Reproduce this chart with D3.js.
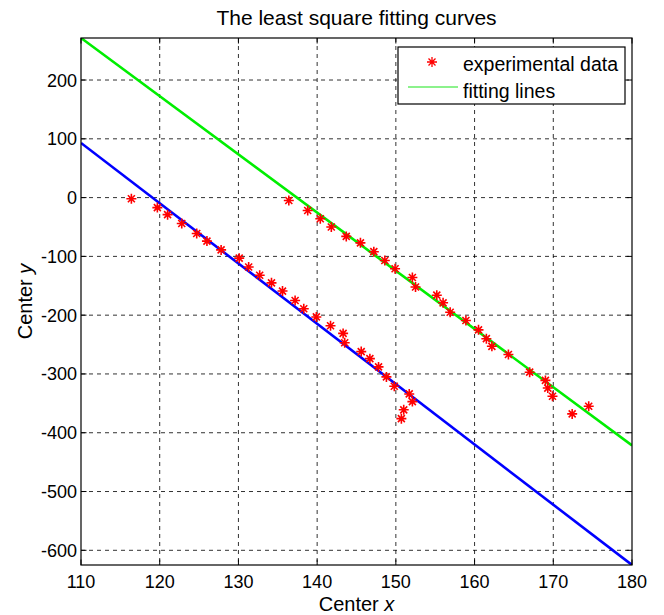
<!DOCTYPE html>
<html><head><meta charset="utf-8">
<script src="https://cdn.jsdelivr.net/npm/d3@7"></script>
<style>body{margin:0;background:#fff}svg{display:block}text{font-family:"Liberation Sans",Arial,sans-serif}</style>
</head><body><svg id="c" width="664" height="615"></svg>
<script>
// ---- data ----
const lowerX = [116.4,119.7,121.0,122.8,124.7,126.0,127.8,130.1,131.3,132.7,134.2,135.6,137.2,138.3,139.9,141.7,143.3,143.5,145.6,146.7,147.8,148.8,149.8,151.7,152.1,151.0,150.7];
const lowerY = [-2,-17,-29,-44,-61,-74,-89,-103,-118,-132,-145,-159,-175,-189,-203,-218,-231,-247,-262,-274,-288,-305,-321,-334,-347,-361,-376];
const upperX = [136.4,138.8,140.4,141.8,143.7,145.5,147.2,148.6,149.9,152.1,152.5,155.2,156.0,156.9,158.9,160.5,161.5,162.2,164.3,167.0,169.0,169.3,169.9,172.4,174.5];
const upperY = [-5,-22,-36,-50,-66,-77,-92,-107,-121,-136,-152,-166,-179,-195,-209,-225,-240,-253,-267,-297,-311,-324,-338,-368,-355];
const fitX = [110,180];
const greenFitY = [271.5,-421.6];
const blueFitY = [93,-625];
const xTicks = [110,120,130,140,150,160,170,180];
const yTicks = [-600,-500,-400,-300,-200,-100,0,100,200];
const xDomain = [110,180];
const yDomain = [-625,271.5];

// ---- layout ----
const L=81,R=632,T=38,B=565;
const svg=d3.select("#c");
svg.append("rect").attr("width",664).attr("height",615).attr("fill","#fff");
const x=d3.scaleLinear().domain(xDomain).range([L,R]);
const y=d3.scaleLinear().domain(yDomain).range([B,T]);

// grid
const g=svg.append("g");
g.selectAll(".gx").data(xTicks.filter(t=>t>xDomain[0]&&t<xDomain[1])).join("line")
 .attr("x1",d=>x(d)).attr("x2",d=>x(d)).attr("y1",T).attr("y2",B)
 .attr("stroke","#000").attr("stroke-width",1).attr("stroke-dasharray","4,4").attr("opacity",0.8);
g.selectAll(".gy").data(yTicks).join("line")
 .attr("y1",d=>y(d)).attr("y2",d=>y(d)).attr("x1",L).attr("x2",R)
 .attr("stroke","#000").attr("stroke-width",1).attr("stroke-dasharray","4,4").attr("opacity",0.8);

// fit lines
const line=d3.line().x(d=>x(d[0])).y(d=>y(d[1]));
svg.append("clipPath").attr("id","pc").append("rect").attr("x",L).attr("y",T).attr("width",R-L).attr("height",B-T);
svg.append("path").datum(fitX.map((v,i)=>[v,greenFitY[i]])).attr("d",line).attr("stroke","#00ee00").attr("stroke-width",2.6).attr("fill","none").attr("clip-path","url(#pc)");
svg.append("path").datum(fitX.map((v,i)=>[v,blueFitY[i]])).attr("d",line).attr("stroke","#0000ff").attr("stroke-width",2.6).attr("fill","none").attr("clip-path","url(#pc)");

// markers
const star="M-5,0H5M0,-5V5M-3.5,-3.5L3.5,3.5M-3.5,3.5L3.5,-3.5";
const pts=lowerX.map((v,i)=>[v,lowerY[i]]).concat(upperX.map((v,i)=>[v,upperY[i]]));
svg.append("g").selectAll("path").data(pts).join("path")
 .attr("transform",d=>`translate(${x(d[0])},${y(d[1])})`).attr("d",star)
 .attr("stroke","#ff0000").attr("stroke-width",1.6).attr("fill","none");

// axes box & ticks
svg.append("rect").attr("x",L).attr("y",T).attr("width",R-L).attr("height",B-T).attr("fill","none").attr("stroke","#000").attr("stroke-width",1.2);
const tl=5.5;
const ax=svg.append("g").attr("stroke","#000").attr("stroke-width",1);
xTicks.forEach(t=>{ax.append("line").attr("x1",x(t)).attr("x2",x(t)).attr("y1",B).attr("y2",B-tl);
 ax.append("line").attr("x1",x(t)).attr("x2",x(t)).attr("y1",T).attr("y2",T+tl);});
yTicks.forEach(t=>{ax.append("line").attr("y1",y(t)).attr("y2",y(t)).attr("x1",L).attr("x2",L+tl);
 ax.append("line").attr("y1",y(t)).attr("y2",y(t)).attr("x1",R).attr("x2",R-tl);});

// tick labels
svg.append("g").selectAll("text").data(xTicks).join("text").attr("x",d=>x(d)).attr("y",B+23)
 .attr("text-anchor","middle").attr("font-size",18).text(d=>d);
svg.append("g").selectAll("text").data(yTicks).join("text").attr("x",L-4).attr("y",d=>y(d)+6.5)
 .attr("text-anchor","end").attr("font-size",18).text(d=>d);

// titles
svg.append("text").attr("x",(L+R)/2).attr("y",25).attr("text-anchor","middle").attr("font-size",21).text("The least square fitting curves");
const xl=svg.append("text").attr("x",(L+R)/2).attr("y",611).attr("text-anchor","middle").attr("font-size",20);
xl.append("tspan").text("Center ");xl.append("tspan").attr("font-style","italic").text("x");
const yl=svg.append("text").attr("transform",`translate(32,${(T+B)/2}) rotate(-90)`).attr("text-anchor","middle").attr("font-size",20);
yl.append("tspan").text("Center ");yl.append("tspan").attr("font-style","italic").text("y");

// legend
const lg=svg.append("g");
lg.append("rect").attr("x",398).attr("y",47).attr("width",227).attr("height",57).attr("fill","#fff").attr("stroke","#000").attr("stroke-width",1.2);
lg.append("path").attr("transform","translate(432,62)").attr("d",star).attr("stroke","#ff0000").attr("stroke-width",1.3).attr("fill","none");
lg.append("text").attr("x",463).attr("y",71).attr("font-size",19.5).text("experimental data");
lg.append("line").attr("x1",408).attr("x2",458).attr("y1",87).attr("y2",87).attr("stroke","#66ee66").attr("stroke-width",1.5);
lg.append("text").attr("x",463).attr("y",98).attr("font-size",19.5).text("fitting lines");
</script></body></html>
